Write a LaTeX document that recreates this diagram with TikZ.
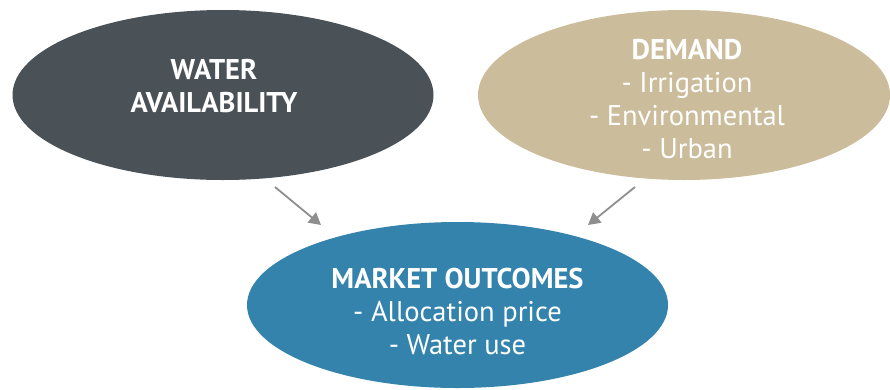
\documentclass[tikz,border=0pt]{standalone}
\usepackage{fontspec}
\setmainfont{PT Sans}
\usetikzlibrary{shapes.geometric,arrows.meta}
\definecolor{slate}{HTML}{4A5157}
\definecolor{sand}{HTML}{CBBC9B}
\definecolor{ocean}{HTML}{3383AD}
\definecolor{arrowgray}{HTML}{8E8E8E}
\begin{document}
\begin{tikzpicture}[x=1pt,y=-1pt,
  blob/.style={ellipse, draw=none, inner sep=0pt},
  caption/.style={text=white, align=center, font=\fontsize{28.5}{33}\selectfont},
  flow/.style={draw=arrowgray, line width=1.8pt, -{Triangle[length=12pt,width=13pt]}}]
\useasboundingbox (0,0) rectangle (890,389);
% the three ellipses
\node[blob, fill=slate, minimum width=421pt, minimum height=170pt] (avail) at (223,95) {};
\node[blob, fill=sand, minimum width=412pt, minimum height=170pt] (demand) at (684,95) {};
\node[blob, fill=ocean, minimum width=421pt, minimum height=166pt] (market) at (457.5,305) {};
% their texts
\node[caption] (availtext) at (214,86) {\bfseries WATER\\\bfseries AVAILABILITY};
\node[caption] (demandtext) at (687,99) {\bfseries DEMAND\\- Irrigation\\- Environmental\\- Urban};
\node[caption] (markettext) at (457.5,311) {\bfseries MARKET OUTCOMES\\- Allocation price\\- Water use};
% arrows between them
\coordinate (s1) at (275,187);
\coordinate (e1) at (321,225);
\coordinate (s2) at (635,187);
\coordinate (e2) at (588,225);
\draw[flow] (s1) -- (e1);
\draw[flow] (s2) -- (e2);
\end{tikzpicture}
\end{document}
